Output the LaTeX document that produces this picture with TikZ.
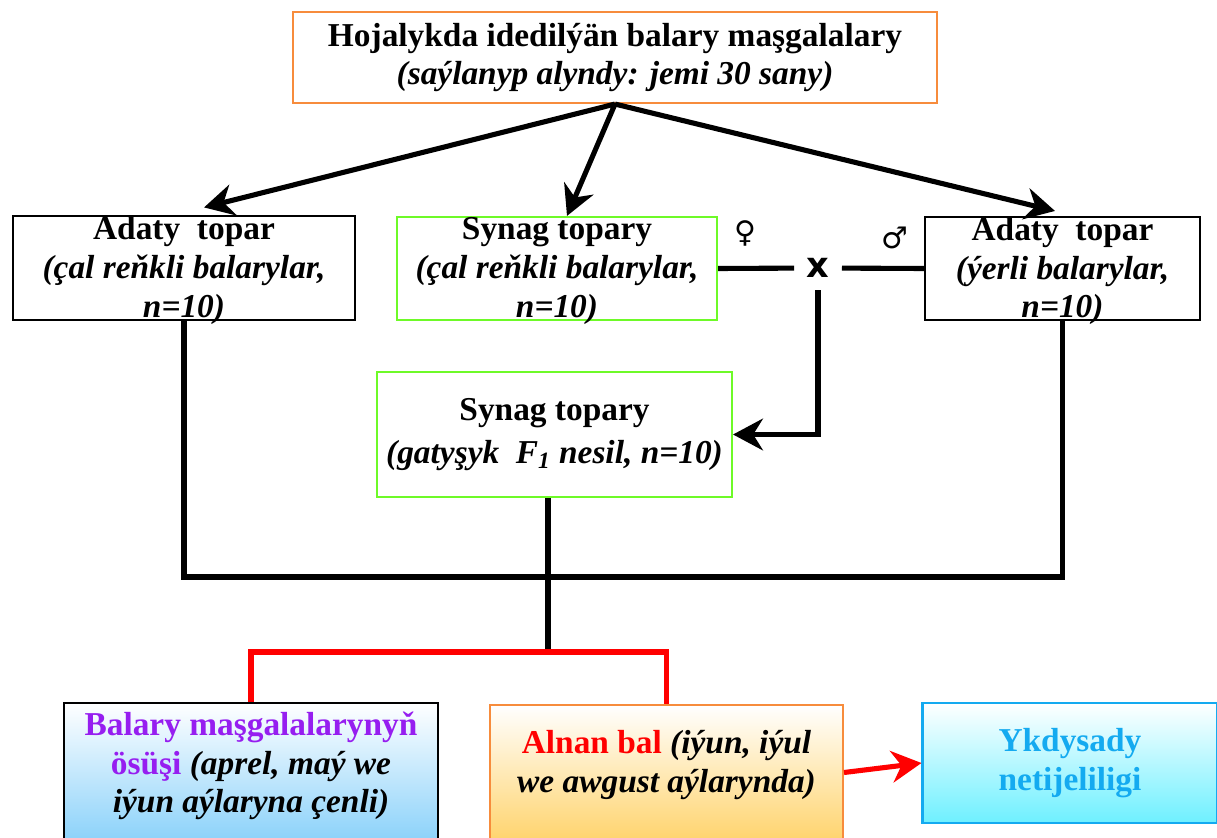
\documentclass[tikz,border=0pt]{standalone}
\usepackage{fontspec}
\setmainfont{Liberation Serif}
\newfontfamily\symfont{DejaVu Sans}
\usetikzlibrary{shapes,arrows,arrows.meta,positioning,calc}
\usepackage{xcolor}

\definecolor{boxorange}{RGB}{247,140,60}
\definecolor{boxgreen}{RGB}{110,250,40}
\definecolor{txtpurple}{RGB}{150,30,240}
\definecolor{skyline}{RGB}{20,170,240}
\definecolor{lightblue}{RGB}{140,210,250}
\definecolor{lightorange}{RGB}{255,212,110}
\definecolor{lightcyan}{RGB}{110,240,255}

\begin{document}
\begin{tikzpicture}[x=0.02cm, y=-0.02cm,
    box/.style={draw, line width=1.2pt, inner sep=0pt},
    txt/.style={align=center, font=\fontsize{19}{22}\selectfont\bfseries},
    arr/.style={-{Stealth[length=17pt,width=18pt]}, line width=2.9pt},
    link/.style={line width=2.9pt}]
    \useasboundingbox (0,0) rectangle (1217,838);

            % top
            \node[box, draw=boxorange, minimum width=12.88cm, minimum height=1.82cm] (top) at (615,57.5) {};
            \node[txt] at (top.center) {Hojalykda idedilýän balary maşgalalary\\ \itshape(saýlanyp alyndy: jemi 30 sany)};

            % parents
            \node[box, minimum width=6.84cm, minimum height=2.08cm] (lft) at (184,268) {};
            \node[txt] at ([yshift=-0.05cm]lft.center) {Adaty~ topar\\ \itshape(çal reňkli balarylar,\\ \itshape n=10)};
            \node[box, draw=boxgreen, minimum width=6.4cm, minimum height=2.06cm] (mid) at (557,268.5) {};
            \node[txt] at ([yshift=-0.05cm]mid.center) {Synag topary\\ \itshape(çal reňkli balarylar,\\ \itshape n=10)};
            \node[box, minimum width=5.5cm, minimum height=2.06cm] (rgt) at (1062.5,268.5) {};
            \node[txt] at ([yshift=-0.05cm]rgt.center) {Adaty~ topar\\ \itshape(ýerli balarylar,\\ \itshape n=10)};

            \node[font=\symfont\fontsize{20}{20}\selectfont\bfseries, inner sep=7pt] (cross) at (818,268) {x};
            \node[font=\symfont\fontsize{17}{17}\selectfont] (fem) at (745,233) {♀};
            \node[font=\symfont\fontsize{17}{17}\selectfont] (male) at (895,238) {♂};

            % F1
            \node[box, draw=boxgreen, minimum width=7.1cm, minimum height=2.5cm] (fone) at (554.5,434.5) {};
            \node[txt] at (fone.center) {Synag topary\\[2pt] \itshape(gatyşyk~ F\textsubscript{1} nesil, n=10)};

            % results
            \node[box, top color=white, middle color=white, bottom color=lightblue, minimum width=7.48cm, minimum height=2.74cm] (grow) at (251,771.5) {};
            \node[txt] at (251,766) {\color{txtpurple}Balary maşgalalarynyň\\ \color{txtpurple}ösüşi \color{black}\itshape(aprel, maý we\\ \itshape iýun aýlaryna çenli)};
            \node[box, draw=boxorange, top color=white, middle color=white, bottom color=lightorange, minimum width=7.06cm, minimum height=2.7cm] (honey) at (666.5,772.5) {};
            \node[txt] at (666.5,765) {\color{red}Alnan bal \color{black}\itshape(iýun, iýul\\ \itshape we awgust aýlarynda)};
            \node[box, draw=skyline, top color=white, bottom color=lightcyan, minimum width=5.9cm, minimum height=2.4cm] (econ) at (1070,763) {};
            \node[txt, text=skyline] at (econ.center) {Ykdysady\\ netijeliligi};

            \coordinate (jn) at (548,577);
            \coordinate (split) at (548,652);

            \draw[arr] (top.south) -- ([xshift=0.4cm,yshift=0.15cm]lft.north);
            \draw[arr] (top.south) -- ([xshift=0.2cm]mid.north);
            \draw[arr] (top.south) -- ([xshift=-0.15cm,yshift=0.1cm]rgt.north);

            \draw[link] (mid.east) -- (cross);
            \draw[link] (cross) -- (rgt.west);
            \draw[arr] (cross.south) |- (fone.east);

            \draw[link] (lft.south) |- (jn) -| (rgt.south);
            \draw[link] (fone.south -| split) -- (split);
            \draw[link, red] (grow.north) |- (split) -| (honey.north);
            \draw[arr, red] (honey.east) -- (econ.west);
        \end{tikzpicture}
\end{document}
